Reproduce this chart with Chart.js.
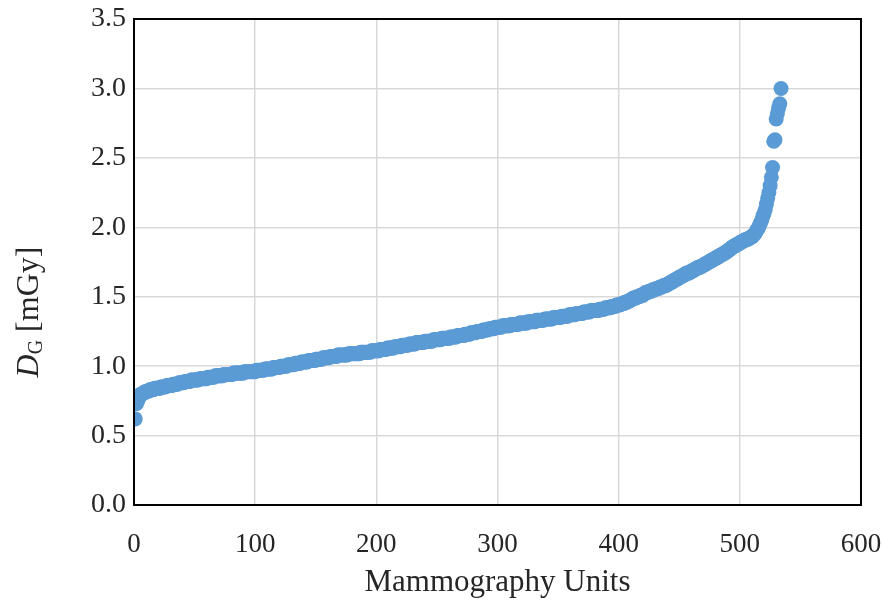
<!DOCTYPE html>
<html>
<head>
<meta charset="utf-8">
<script src="https://cdn.jsdelivr.net/npm/chart.js@4.4.1/dist/chart.umd.min.js"></script>
<style>
  html, body { margin: 0; padding: 0; background: #fff; }
  #wrap { width: 886px; height: 605px; }
</style>
</head>
<body>
<div id="wrap"><canvas id="doseChart" width="886" height="605"></canvas></div>
<script>
// sorted D_G values per unit (rank 1..534)
const doseValues = [
  0.62, 0.73, 0.75, 0.77, 0.79, 0.80, 0.80, 0.81, 0.81, 0.82,
  0.82, 0.82, 0.83, 0.83, 0.83, 0.83, 0.84, 0.84, 0.84, 0.84,
  0.84, 0.85, 0.85, 0.85, 0.85, 0.85, 0.86, 0.86, 0.86, 0.86,
  0.86, 0.87, 0.87, 0.87, 0.87, 0.87, 0.88, 0.88, 0.88, 0.88,
  0.88, 0.89, 0.89, 0.89, 0.89, 0.89, 0.90, 0.90, 0.90, 0.90,
  0.90, 0.90, 0.90, 0.91, 0.91, 0.91, 0.91, 0.91, 0.91, 0.91,
  0.92, 0.92, 0.92, 0.92, 0.92, 0.92, 0.93, 0.93, 0.93, 0.93,
  0.93, 0.93, 0.93, 0.94, 0.94, 0.94, 0.94, 0.94, 0.94, 0.94,
  0.94, 0.95, 0.95, 0.95, 0.95, 0.95, 0.95, 0.95, 0.95, 0.95,
  0.96, 0.96, 0.96, 0.96, 0.96, 0.96, 0.96, 0.96, 0.96, 0.96,
  0.97, 0.97, 0.97, 0.97, 0.97, 0.97, 0.97, 0.98, 0.98, 0.98,
  0.98, 0.98, 0.98, 0.98, 0.99, 0.99, 0.99, 0.99, 0.99, 0.99,
  1.00, 1.00, 1.00, 1.00, 1.00, 1.00, 1.01, 1.01, 1.01, 1.01,
  1.01, 1.01, 1.02, 1.02, 1.02, 1.02, 1.02, 1.03, 1.03, 1.03,
  1.03, 1.03, 1.03, 1.04, 1.04, 1.04, 1.04, 1.04, 1.04, 1.05,
  1.05, 1.05, 1.05, 1.05, 1.05, 1.06, 1.06, 1.06, 1.06, 1.06,
  1.06, 1.07, 1.07, 1.07, 1.07, 1.07, 1.07, 1.08, 1.08, 1.08,
  1.08, 1.08, 1.08, 1.08, 1.08, 1.08, 1.09, 1.09, 1.09, 1.09,
  1.09, 1.09, 1.09, 1.09, 1.09, 1.09, 1.10, 1.10, 1.10, 1.10,
  1.10, 1.10, 1.10, 1.10, 1.10, 1.11, 1.11, 1.11, 1.11, 1.11,
  1.11, 1.11, 1.12, 1.12, 1.12, 1.12, 1.12, 1.12, 1.13, 1.13,
  1.13, 1.13, 1.13, 1.13, 1.14, 1.14, 1.14, 1.14, 1.14, 1.14,
  1.15, 1.15, 1.15, 1.15, 1.15, 1.15, 1.16, 1.16, 1.16, 1.16,
  1.16, 1.16, 1.17, 1.17, 1.17, 1.17, 1.17, 1.17, 1.17, 1.18,
  1.18, 1.18, 1.18, 1.18, 1.18, 1.18, 1.19, 1.19, 1.19, 1.19,
  1.19, 1.19, 1.19, 1.20, 1.20, 1.20, 1.20, 1.20, 1.20, 1.20,
  1.21, 1.21, 1.21, 1.21, 1.21, 1.21, 1.22, 1.22, 1.22, 1.22,
  1.22, 1.22, 1.23, 1.23, 1.23, 1.23, 1.23, 1.24, 1.24, 1.24,
  1.24, 1.24, 1.25, 1.25, 1.25, 1.25, 1.25, 1.26, 1.26, 1.26,
  1.26, 1.26, 1.27, 1.27, 1.27, 1.27, 1.27, 1.28, 1.28, 1.28,
  1.28, 1.28, 1.28, 1.29, 1.29, 1.29, 1.29, 1.29, 1.29, 1.29,
  1.30, 1.30, 1.30, 1.30, 1.30, 1.30, 1.30, 1.31, 1.31, 1.31,
  1.31, 1.31, 1.31, 1.31, 1.32, 1.32, 1.32, 1.32, 1.32, 1.32,
  1.32, 1.33, 1.33, 1.33, 1.33, 1.33, 1.33, 1.33, 1.34, 1.34,
  1.34, 1.34, 1.34, 1.34, 1.34, 1.35, 1.35, 1.35, 1.35, 1.35,
  1.35, 1.35, 1.36, 1.36, 1.36, 1.36, 1.36, 1.36, 1.37, 1.37,
  1.37, 1.37, 1.37, 1.37, 1.38, 1.38, 1.38, 1.38, 1.38, 1.38,
  1.39, 1.39, 1.39, 1.39, 1.39, 1.39, 1.40, 1.40, 1.40, 1.40,
  1.40, 1.40, 1.40, 1.41, 1.41, 1.41, 1.41, 1.41, 1.42, 1.42,
  1.42, 1.42, 1.42, 1.43, 1.43, 1.43, 1.43, 1.44, 1.44, 1.44,
  1.44, 1.45, 1.45, 1.45, 1.46, 1.46, 1.46, 1.47, 1.47, 1.48,
  1.48, 1.49, 1.49, 1.49, 1.50, 1.50, 1.50, 1.51, 1.51, 1.51,
  1.52, 1.53, 1.53, 1.53, 1.54, 1.54, 1.54, 1.55, 1.55, 1.55,
  1.56, 1.56, 1.56, 1.57, 1.57, 1.57, 1.58, 1.58, 1.58, 1.59,
  1.59, 1.60, 1.60, 1.61, 1.61, 1.62, 1.62, 1.63, 1.63, 1.64,
  1.64, 1.65, 1.65, 1.66, 1.66, 1.67, 1.67, 1.67, 1.68, 1.68,
  1.69, 1.69, 1.70, 1.70, 1.71, 1.71, 1.71, 1.72, 1.72, 1.73,
  1.73, 1.74, 1.74, 1.75, 1.75, 1.76, 1.76, 1.77, 1.77, 1.78,
  1.78, 1.79, 1.79, 1.80, 1.80, 1.81, 1.81, 1.82, 1.82, 1.83,
  1.84, 1.84, 1.85, 1.86, 1.86, 1.87, 1.87, 1.88, 1.88, 1.89,
  1.89, 1.90, 1.90, 1.91, 1.91, 1.91, 1.92, 1.92, 1.93, 1.93,
  1.94, 1.95, 1.96, 1.98, 1.99, 2.01, 2.03, 2.05, 2.08, 2.10,
  2.13, 2.17, 2.21, 2.25, 2.30, 2.36, 2.43, 2.62, 2.63, 2.78,
  2.82, 2.86, 2.89, 3.00
];

const xTicks = [0, 100, 200, 300, 400, 500, 600];
const yTicks = [0.0, 0.5, 1.0, 1.5, 2.0, 2.5, 3.0, 3.5];
const xTitle = 'Mammography Units';

const serif = "'Liberation Serif', 'Times New Roman', serif";

// frame around plot area + y title with italic D and subscript G
const framePlugin = {
    id: 'frame',
    afterDraw(chart) {
        const ctx = chart.ctx;
        const a = chart.chartArea;
        ctx.save();
        ctx.strokeStyle = '#000';
        ctx.lineWidth = 2;
        ctx.strokeRect(a.left, a.top, a.right - a.left, a.bottom - a.top);

        // y axis title
        ctx.translate(27, 312);
        ctx.rotate(-Math.PI / 2);
        ctx.fillStyle = '#262626';
        ctx.textBaseline = 'alphabetic';
        const partD = 'D';
        const partG = 'G';
        const partRest = ' [mGy]';
        ctx.font = 'italic 32px ' + serif;
        const wD = ctx.measureText(partD).width;
        ctx.font = '20px ' + serif;
        const wG = ctx.measureText(partG).width;
        ctx.font = '32px ' + serif;
        const wR = ctx.measureText(partRest).width;
        let x = -(wD + wG + wR) / 2;
        const base = 11;
        ctx.font = 'italic 32px ' + serif;
        ctx.fillText(partD, x, base);
        x += wD;
        ctx.font = '20px ' + serif;
        ctx.fillText(partG, x, base + 4);
        x += wG;
        ctx.font = '32px ' + serif;
        ctx.fillText(partRest, x, base);
        ctx.restore();
    }
};

new Chart(document.querySelector('#doseChart'), {
    type: 'scatter',
    data: {
        datasets: [{
            label: 'DG',
            data: doseValues.map((v, i) => ({ x: i + 1, y: v })),
            backgroundColor: '#5B9BD5',
            borderWidth: 0,
            pointRadius: 7.5,
            pointHoverRadius: 7.5
        }]
    },
    options: {
        responsive: false,
        animation: false,
        layout: {
            padding: { top: 19, right: 25, left: 0, bottom: 0 }
        },
        plugins: {
            legend: { display: false },
            tooltip: { enabled: false }
        },
        scales: {
            x: {
                type: 'linear',
                min: 0,
                max: 600,
                afterBuildTicks: (scale) => { scale.ticks = xTicks.map(v => ({ value: v })); },
                afterFit: (scale) => {
                    scale.height = 100;
                    scale.paddingLeft = 0;
                    scale.paddingRight = 0;
                },
                grid: { color: '#d9d9d9', lineWidth: 1.5, drawTicks: false },
                border: { display: false },
                ticks: {
                    padding: 24,
                    color: '#262626',
                    font: { family: serif, size: 27 }
                },
                title: {
                    display: true,
                    text: xTitle,
                    color: '#262626',
                    font: { family: serif, size: 31 },
                    padding: { top: 0, bottom: 4 }
                }
            },
            y: {
                type: 'linear',
                min: 0,
                max: 3.5,
                afterBuildTicks: (scale) => { scale.ticks = yTicks.map(v => ({ value: v })); },
                afterFit: (scale) => {
                    scale.width = 134;
                    scale.paddingTop = 0;
                    scale.paddingBottom = 0;
                },
                grid: { color: '#d9d9d9', lineWidth: 1.5, drawTicks: false },
                border: { display: false },
                ticks: {
                    padding: 8,
                    color: '#262626',
                    font: { family: serif, size: 28 },
                    callback: (v) => Number(v).toFixed(1)
                }
            }
        }
    },
    plugins: [framePlugin]
});
</script>
</body>
</html>
